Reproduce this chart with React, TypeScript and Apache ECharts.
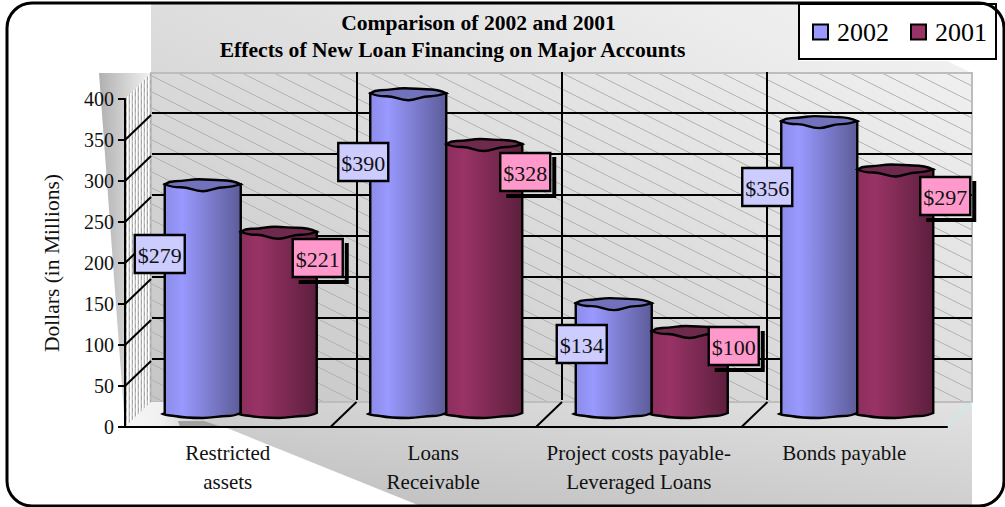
import React, { useEffect, useRef } from "react";
import * as echarts from "echarts";

const titleLines = ["Comparison of 2002 and 2001", "Effects of New Loan Financing on Major Accounts"];
const categories = ["Restricted\nassets", "Loans\nReceivable", "Project costs payable-\nLeveraged Loans", "Bonds payable"];
const values2002 = [279, 390, 134, 356];
const values2001 = [221, 328, 100, 297];
const valueTicks = [50, 100, 150, 200, 250, 300, 350];
const categoryBoundaries = [1, 2, 3];

// Pixel offsets of each value box: from the bar's left edge, and above the bar's foot.
const boxOffsets2002 = [[-5, 161], [-7, 253], [6, 71], [-14, 228]];
const boxOffsets2001 = [[77, 157], [79, 243], [82, 69], [88, 219]];

const SERIF = "'Liberation Serif', 'Times New Roman', serif";
const DEPTH = 26;
const BAR_WIDTH = 76;
const BAR_SHIFT_X = 13;
const BAR_SHIFT_Y = 12;

function hatchTile() {
  const c = document.createElement("canvas");
  c.width = 32;
  c.height = 16;
  const g = c.getContext("2d")!;
  g.strokeStyle = "#b0b0b0";
  g.lineWidth = 1;
  g.beginPath();
  g.moveTo(0, 0);
  g.lineTo(32, 16);
  g.stroke();
  return c;
}

function speckleTile() {
  const c = document.createElement("canvas");
  c.width = 6;
  c.height = 8;
  const g = c.getContext("2d")!;
  g.fillStyle = "#e6e6e6";
  g.fillRect(0, 0, 6, 8);
  g.fillStyle = "#a6a6a6";
  g.fillRect(0, 0, 1, 4);
  g.fillRect(3, 4, 1, 4);
  g.fillStyle = "#bcbcbc";
  g.fillRect(3, 0, 1, 4);
  g.fillRect(0, 4, 1, 4);
  g.fillStyle = "#ffffff";
  g.fillRect(1, 0, 1, 8);
  g.fillRect(4, 0, 1, 8);
  return c;
}

function topPath(l: number, y: number) {
  return (
    `M${l} ${y - 2}C${l + 3} ${y - 4} ${l + 6} ${y - 5} ${l + 10} ${y - 5}` +
    `C${l + 22} ${y - 5} ${l + 24} ${y - 7} ${l + 34} ${y - 7}` +
    `C${l + 44} ${y - 7} ${l + 48} ${y - 6} ${l + 56} ${y - 6}` +
    `C${l + 62} ${y - 6} ${l + 70} ${y - 5} ${l + 76} ${y - 2}` +
    `C${l + 70} ${y} ${l + 66} ${y + 1} ${l + 60} ${y + 1}` +
    `C${l + 50} ${y + 1} ${l + 46} ${y + 5} ${l + 38} ${y + 5}` +
    `C${l + 28} ${y + 5} ${l + 26} ${y + 1} ${l + 16} ${y + 1}` +
    `C${l + 8} ${y + 1} ${l + 4} ${y} ${l} ${y - 2}Z`
  );
}

function bodyPath(l: number, y: number, b: number) {
  return (
    `M${l} ${y - 2}L${l} ${b - 2}L${l - 2} ${b - 1}C${l + 2} ${b + 1} ${l + 6} ${b} ${l + 10} ${b + 1}` +
    `C${l + 20} ${b + 3} ${l + 28} ${b + 3} ${l + 38} ${b + 3}` +
    `C${l + 48} ${b + 3} ${l + 54} ${b + 1} ${l + 62} ${b + 1}` +
    `C${l + 68} ${b + 1} ${l + 72} ${b} ${l + 76} ${b - 2}L${l + 76} ${y - 2}Z`
  );
}

function barRenderer(
  isLeft: boolean,
  stops: [string, string, string],
  topColor: string,
  boxColor: string,
  offsets: number[][],
  shadow: boolean,
) {
  return (_params: any, api: any) => {
    const idx = api.value(0);
    const val = api.value(1);
    const top = api.coord([idx, val]);
    const foot = api.coord([idx, 0]);
    const l = top[0] + BAR_SHIFT_X - (isLeft ? BAR_WIDTH : 0);
    const y = top[1] - BAR_SHIFT_Y;
    const b = foot[1] - BAR_SHIFT_Y;
    const line = { stroke: "#000", lineWidth: 2.4 };
    const [ox, oy] = offsets[idx];
    const bx = l + ox - 25;
    const by = b - oy - 19;
    const children: any[] = [
      {
        type: "path",
        shape: { pathData: bodyPath(l, y, b) },
        style: {
          ...line,
          fill: new echarts.graphic.LinearGradient(0, 0, 1, 0, [
            { offset: 0, color: stops[0] },
            { offset: 0.25, color: stops[1] },
            { offset: 1, color: stops[2] },
          ]),
        },
      },
      { type: "path", shape: { pathData: topPath(l, y) }, style: { ...line, fill: topColor } },
    ];
    if (shadow) {
      children.push({
        type: "polyline",
        shape: { points: [[bx + 54, by + 4], [bx + 54, by + 43], [bx + 6, by + 43]] },
        style: { stroke: "#000", lineWidth: 4, fill: "none" },
      });
    }
    children.push(
      {
        type: "rect",
        shape: { x: bx, y: by, width: 50, height: 38 },
        style: { fill: boxColor, stroke: "#000", lineWidth: 2.4 },
      },
      {
        type: "text",
        style: {
          text: "$" + val,
          x: bx + 25,
          y: by + 20,
          align: "center",
          verticalAlign: "middle",
          fontFamily: SERIF,
          fontSize: 22,
          fill: "#111",
        },
      },
    );
    return { type: "group", children };
  };
}

export default function App() {
  const ref = useRef<HTMLDivElement>(null);

  useEffect(() => {
    document.body.style.margin = "0";
    const chart = echarts.init(ref.current!, null, { renderer: "svg" });

    const wallFill = new echarts.graphic.LinearGradient(0, 1, 1, 0, [
      { offset: 0, color: "#c6c6c6" },
      { offset: 1, color: "#f4f4f4" },
    ]);

    const scenery: any[] = [
      {
        type: "polygon",
        z: -5,
        shape: { points: [[151, 4], [799, 4], [799, 61], [947, 61], [972, 73], [972, 402], [151, 402]] },
        style: { fill: wallFill },
      },
      {
        type: "rect",
        z: -4,
        shape: { x: 151, y: 73, width: 821, height: 329 },
        style: { fill: { image: hatchTile(), repeat: "repeat" } as any, stroke: "#bdbdbd", lineWidth: 2 },
      },
      {
        type: "polygon",
        z: -5,
        shape: { points: [[99, 73], [151, 73], [125, 99], [125, 427]] },
        style: {
          fill: new echarts.graphic.LinearGradient(0, 0, 1, 0, [
            { offset: 0, color: "#b0b0b0" },
            { offset: 1, color: "#f2f2f2" },
          ]),
        },
      },
      {
        type: "polygon",
        z: -4,
        shape: { points: [[125, 99], [151, 73], [151, 402], [125, 427]] },
        style: { fill: { image: speckleTile(), repeat: "repeat" } as any },
      },
      {
        type: "polygon",
        z: -5,
        shape: { points: [[125, 427], [151, 402], [972, 402], [972, 505], [418, 505], [227, 428]] },
        style: {
          fill: new echarts.graphic.LinearGradient(0, 1, 1, 0, [
            { offset: 0, color: "#bcbcbc" },
            { offset: 1, color: "#e2e2e2" },
          ]),
        },
      },
      {
        type: "polygon",
        z: -4,
        shape: { points: [[125, 427], [151, 402], [195, 402], [230, 427]] },
        style: {
          fill: new echarts.graphic.LinearGradient(0, 0, 1, 0, [
            { offset: 0, color: "#f6f6f6" },
            { offset: 0.35, color: "#f0f0f0" },
            { offset: 1, color: "rgba(200,200,200,0)" },
          ]),
        },
      },
      {
        type: "polygon",
        z: -3,
        shape: { points: [[178, 421], [204, 421], [222, 427], [180, 427]] },
        style: { fill: "#a2a2a2" },
      },
      {
        type: "line",
        z: -3,
        shape: { x1: 947, y1: 427, x2: 972, y2: 402 },
        style: { stroke: "#bfeeee", lineWidth: 1.5 },
      },
      {
        type: "rect",
        z: 50,
        shape: { x: 7, y: 3, width: 997, height: 503, r: 25 },
        style: { fill: "none", stroke: "#000", lineWidth: 3 },
      },
    ];

    const titleStyle = { fontFamily: SERIF, fontWeight: "bold", fontSize: 21.6, color: "#000" };

    chart.setOption({
      animation: false,
      backgroundColor: "#fff",
      title: [
        { text: titleLines[0], left: 478.5, top: 12, textAlign: "center", padding: 0, textStyle: titleStyle },
        { text: titleLines[1], left: 452.5, top: 39, textAlign: "center", padding: 0, textStyle: titleStyle },
      ],
      legend: {
        data: ["2002", "2001"],
        left: 799,
        top: 4,
        padding: [15, 9, 14, 13],
        itemWidth: 15,
        itemHeight: 15,
        itemGap: 21,
        icon: "rect",
        backgroundColor: "#fff",
        borderColor: "#000",
        borderWidth: 2,
        itemStyle: { borderColor: "#000", borderWidth: 2 },
        textStyle: { fontFamily: SERIF, fontSize: 26, color: "#000", padding: [2, 0, 0, 4] },
      },
      graphic: scenery,
      grid: [
        { left: 125, top: 99, width: 822, height: 328 },
        { left: 152, top: 72, width: 820, height: 328 },
      ],
      xAxis: [
        {
          type: "category",
          gridIndex: 0,
          data: categories,
          axisLine: { lineStyle: { color: "#000", width: 2 } },
          axisTick: { length: 7, lineStyle: { color: "#000", width: 2 } },
          axisLabel: { interval: 0, fontFamily: SERIF, fontSize: 21, lineHeight: 29, color: "#111", margin: 11 },
        },
        {
          type: "category",
          gridIndex: 1,
          data: categories,
          axisLine: { show: false },
          axisTick: { show: false },
          axisLabel: { show: false },
          splitLine: {
            show: true,
            interval: 0,
            showMinLine: false,
            showMaxLine: false,
            lineStyle: { color: "#000", width: 2 },
          },
        },
      ],
      yAxis: [
        {
          type: "value",
          gridIndex: 0,
          min: 0,
          max: 400,
          interval: 50,
          name: "Dollars (in Millions)",
          nameLocation: "middle",
          nameGap: 62,
          nameRotate: 90,
          nameTextStyle: { fontFamily: SERIF, fontSize: 21.5, color: "#111" },
          axisLine: { show: true, lineStyle: { color: "#000", width: 2 } },
          axisTick: { show: true, length: 7, lineStyle: { color: "#000", width: 2 } },
          axisLabel: { fontFamily: SERIF, fontSize: 20, color: "#111", margin: 11 },
          splitLine: { show: false },
        },
        {
          type: "value",
          gridIndex: 1,
          min: 0,
          max: 400,
          interval: 50,
          axisLine: { show: false },
          axisTick: { show: false },
          axisLabel: { show: false },
          splitLine: {
            show: true,
            showMinLine: false,
            showMaxLine: false,
            lineStyle: { color: "#000", width: 2 },
          },
        },
      ],
      series: [
        {
          type: "custom",
          name: "side-wall rules",
          xAxisIndex: 0,
          yAxisIndex: 0,
          silent: true,
          data: valueTicks.map((v) => [0, v]),
          renderItem: (_p: any, api: any) => {
            const left = api.coord([0, api.value(1)])[0] - api.size([1, 0])[0] / 2;
            const y = api.coord([0, api.value(1)])[1];
            return {
              type: "line",
              shape: { x1: left, y1: y, x2: left + DEPTH, y2: y - DEPTH + 1 },
              style: { stroke: "#000", lineWidth: 2 },
            };
          },
        },
        {
          type: "custom",
          name: "floor rules",
          xAxisIndex: 0,
          yAxisIndex: 0,
          silent: true,
          data: categoryBoundaries.map((i) => [i, 0]),
          renderItem: (_p: any, api: any) => {
            const p = api.coord([api.value(0), 0]);
            const x = p[0] - api.size([1, 0])[0] / 2;
            return {
              type: "line",
              shape: { x1: x, y1: p[1], x2: x + DEPTH, y2: p[1] - DEPTH + 1 },
              style: { stroke: "#000", lineWidth: 2 },
            };
          },
        },
        {
          type: "custom",
          name: "2002",
          xAxisIndex: 0,
          yAxisIndex: 0,
          clip: false,
          z: 3,
          itemStyle: { color: "#9999ff" },
          data: values2002.map((v, i) => [i, v]),
          encode: { x: 0, y: 1 },
          renderItem: barRenderer(true, ["#8a8ae6", "#9999ff", "#5c5c99"], "#7272bc", "#ccccff", boxOffsets2002, false),
        },
        {
          type: "custom",
          name: "2001",
          xAxisIndex: 0,
          yAxisIndex: 0,
          clip: false,
          z: 3,
          itemStyle: { color: "#993366" },
          data: values2001.map((v, i) => [i, v]),
          encode: { x: 0, y: 1 },
          renderItem: barRenderer(false, ["#8a2e5c", "#993366", "#5c1f3d"], "#6e2a4c", "#ff99cc", boxOffsets2001, true),
        },
      ],
    });

    return () => chart.dispose();
  }, []);

  return <div ref={ref} style={{ position: "absolute", left: 0, top: 0, width: 1005, height: 507 }} />;
}
